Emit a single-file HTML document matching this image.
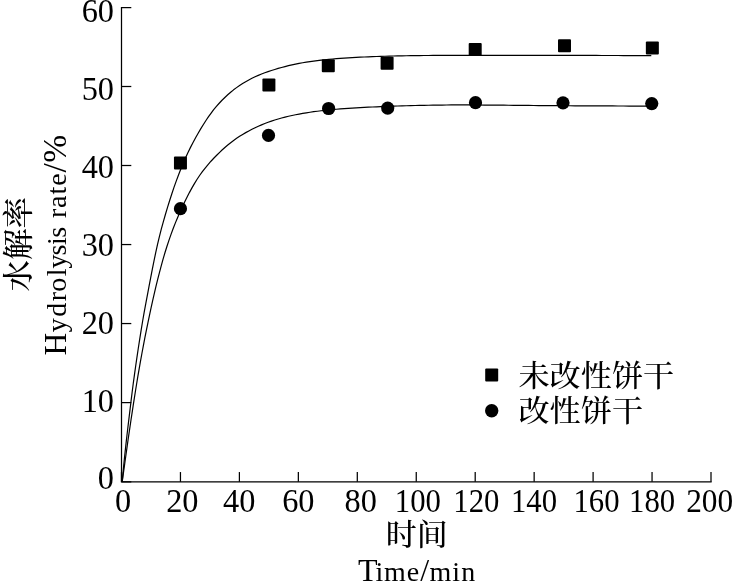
<!DOCTYPE html>
<html lang="zh"><head><meta charset="utf-8"><title>Hydrolysis rate</title>
<style>
html,body{margin:0;padding:0;background:#fff;}
body{width:734px;height:584px;overflow:hidden;}
svg{display:block;}
text{font-family:"Liberation Serif","Noto Serif CJK SC",serif;fill:#000;}
.cn{font-family:"Noto Serif CJK SC","Liberation Serif",serif;font-weight:500;}
.tk{font-size:33.0px;}
</style></head><body>
<svg width="734" height="584" viewBox="0 0 734 584">
<rect width="734" height="584" fill="#fff"/>
<g stroke="#000" stroke-width="1.25" fill="none" stroke-linecap="butt">
<path d="M121.50 6.95 V481.85 H711.65"/>
<path d="M121.50 481.85 h9.8"/>
<path d="M121.50 402.60 h9.8"/>
<path d="M121.50 323.55 h9.8"/>
<path d="M121.50 244.55 h9.8"/>
<path d="M121.50 165.50 h9.8"/>
<path d="M121.50 86.50 h9.8"/>
<path d="M121.50 7.60 h9.8"/>
<path d="M121.50 481.85 v-9.8"/>
<path d="M180.45 481.85 v-9.8"/>
<path d="M239.40 481.85 v-9.8"/>
<path d="M298.35 481.85 v-9.8"/>
<path d="M357.30 481.85 v-9.8"/>
<path d="M416.25 481.85 v-9.8"/>
<path d="M475.20 481.85 v-9.8"/>
<path d="M534.15 481.85 v-9.8"/>
<path d="M593.10 481.85 v-9.8"/>
<path d="M652.05 481.85 v-9.8"/>
<path d="M711.00 481.85 v-9.8"/>
</g>
<g stroke="#000" stroke-width="1.2" fill="none" stroke-linejoin="round">
<path d="M121.90 481.60 L122.22 481.09 L122.41 479.07 L122.68 476.17 L123.03 472.54 L123.44 468.24 L123.92 463.36 L124.48 457.93 L125.10 452.01 L125.79 445.66 L126.55 438.90 L127.38 431.78 L128.25 424.34 L129.18 416.61 L130.15 408.63 L131.14 400.43 L132.16 392.04 L133.25 383.49 L134.44 374.81 L135.68 366.03 L136.97 357.18 L138.30 348.27 L139.68 339.34 L141.11 330.41 L142.57 321.49 L144.11 312.61 L145.73 303.78 L147.38 295.03 L149.02 286.37 L150.65 277.81 L152.29 269.37 L153.95 261.06 L155.66 252.89 L157.42 244.88 L159.27 237.03 L161.22 229.35 L163.30 221.84 L165.40 214.52 L167.52 207.39 L169.67 200.46 L171.85 193.72 L174.06 187.18 L176.31 180.85 L178.60 174.72 L180.92 168.79 L183.28 163.07 L185.68 157.55 L188.12 152.23 L190.63 147.12 L193.17 142.20 L195.73 137.48 L198.29 132.95 L200.84 128.61 L203.40 124.46 L205.96 120.49 L208.54 116.70 L211.14 113.09 L213.67 109.73 L216.42 106.41 L219.20 103.26 L222.01 100.28 L224.86 97.45 L227.74 94.77 L230.65 92.24 L233.59 89.85 L236.57 87.62 L239.58 85.52 L242.62 83.55 L245.69 81.70 L248.80 79.96 L251.93 78.32 L255.10 76.80 L258.30 75.38 L261.53 74.05 L264.79 72.81 L268.08 71.64 L271.41 70.53 L274.76 69.46 L278.15 68.44 L281.56 67.47 L285.01 66.55 L288.48 65.69 L291.99 64.88 L295.53 64.12 L299.09 63.42 L302.69 62.78 L306.31 62.18 L309.97 61.62 L313.66 61.10 L317.37 60.62 L321.11 60.17 L324.89 59.76 L328.69 59.37 L332.52 59.02 L336.38 58.69 L340.27 58.38 L344.19 58.10 L348.13 57.84 L352.11 57.60 L356.11 57.38 L360.14 57.17 L364.20 56.98 L368.29 56.80 L372.41 56.64 L376.55 56.49 L380.73 56.35 L384.93 56.23 L389.15 56.12 L393.41 56.01 L397.69 55.92 L402.01 55.84 L406.35 55.76 L410.71 55.69 L415.11 55.63 L419.53 55.57 L423.97 55.52 L428.45 55.48 L432.95 55.44 L437.48 55.40 L442.04 55.38 L446.62 55.35 L451.23 55.33 L455.87 55.32 L460.53 55.30 L465.22 55.30 L469.94 55.29 L474.68 55.28 L479.45 55.28 L484.25 55.28 L489.07 55.28 L493.92 55.28 L498.80 55.28 L503.70 55.29 L508.62 55.29 L513.58 55.30 L518.56 55.30 L523.56 55.31 L528.59 55.32 L533.65 55.33 L538.73 55.34 L543.84 55.35 L548.97 55.36 L554.13 55.37 L559.31 55.38 L564.52 55.39 L569.76 55.40 L575.02 55.41 L580.31 55.43 L585.62 55.44 L590.95 55.45 L596.31 55.47 L601.70 55.48 L607.11 55.49 L612.55 55.51 L618.01 55.52 L623.50 55.53 L629.01 55.55 L634.54 55.56 L640.10 55.58 L645.69 55.59 L651.30 55.61"/>
<path d="M121.90 481.60 L122.28 481.24 L122.52 479.53 L122.85 477.10 L123.28 474.04 L123.78 470.42 L124.35 466.30 L124.99 461.73 L125.69 456.74 L126.44 451.37 L127.25 445.66 L128.10 439.64 L129.01 433.34 L129.98 426.79 L130.99 420.02 L132.04 413.06 L133.13 405.93 L134.26 398.65 L135.43 391.26 L136.64 383.76 L137.89 376.20 L139.20 368.58 L140.55 360.92 L141.94 353.25 L143.37 345.59 L144.84 337.94 L146.35 330.33 L147.90 322.77 L149.47 315.27 L151.06 307.85 L152.67 300.52 L154.33 293.29 L156.02 286.16 L157.75 279.16 L159.50 272.29 L161.29 265.55 L163.13 258.96 L165.02 252.51 L166.98 246.21 L169.01 240.08 L171.11 234.10 L173.27 228.29 L175.49 222.65 L177.75 217.17 L180.05 211.87 L182.40 206.73 L184.75 201.77 L187.12 196.97 L189.52 192.34 L191.96 187.89 L194.43 183.60 L196.95 179.47 L199.60 175.51 L202.36 171.70 L205.18 168.05 L208.04 164.56 L210.97 161.22 L213.97 158.02 L216.95 154.97 L219.92 152.06 L222.04 150.03 L224.89 147.46 L227.77 145.01 L230.68 142.68 L233.62 140.46 L236.60 138.35 L239.61 136.35 L242.65 134.44 L245.72 132.63 L248.83 130.91 L251.96 129.27 L255.13 127.72 L258.33 126.24 L261.56 124.85 L264.82 123.53 L268.11 122.29 L271.44 121.12 L274.79 120.02 L278.18 118.99 L281.59 118.03 L285.04 117.13 L288.51 116.28 L292.02 115.49 L295.55 114.75 L299.12 114.06 L302.72 113.41 L306.34 112.80 L310.00 112.24 L313.68 111.71 L317.40 111.22 L321.14 110.77 L324.91 110.34 L328.71 109.95 L332.54 109.58 L336.40 109.23 L340.29 108.91 L344.21 108.62 L348.16 108.34 L352.13 108.08 L356.13 107.84 L360.17 107.61 L364.23 107.39 L368.31 107.19 L372.43 106.99 L376.57 106.80 L380.75 106.62 L384.95 106.46 L389.17 106.29 L393.43 106.14 L397.71 106.00 L402.03 105.86 L406.36 105.74 L410.73 105.62 L415.12 105.51 L419.54 105.41 L423.99 105.31 L428.47 105.23 L432.97 105.16 L437.50 105.09 L442.05 105.04 L446.64 105.00 L451.25 104.97 L455.88 104.95 L460.55 104.95 L465.24 104.95 L469.95 104.96 L474.70 104.98 L479.47 105.01 L484.26 105.04 L489.08 105.08 L493.93 105.12 L498.81 105.16 L503.71 105.21 L508.63 105.26 L513.59 105.32 L518.57 105.37 L523.57 105.42 L528.60 105.47 L533.66 105.52 L538.74 105.57 L543.85 105.61 L548.98 105.64 L554.14 105.67 L559.32 105.70 L564.53 105.73 L569.77 105.75 L575.03 105.78 L580.31 105.80 L585.62 105.83 L590.96 105.86 L596.32 105.88 L601.70 105.91 L607.12 105.94 L612.55 105.96 L618.01 105.99 L623.50 106.01 L629.01 106.04 L634.55 106.06 L640.11 106.09 L645.69 106.11 L651.30 106.13"/>
</g>
<rect x="173.95" y="156.60" width="13.0" height="13.0" rx="1"/>
<rect x="262.40" y="78.60" width="13.0" height="13.0" rx="1"/>
<rect x="321.80" y="59.20" width="13.0" height="13.0" rx="1"/>
<rect x="380.60" y="56.85" width="13.0" height="13.0" rx="1"/>
<rect x="468.70" y="43.00" width="13.0" height="13.0" rx="1"/>
<rect x="558.00" y="39.35" width="13.0" height="13.0" rx="1"/>
<rect x="645.85" y="41.50" width="13.0" height="13.0" rx="1"/>
<circle cx="180.45" cy="208.70" r="6.6"/>
<circle cx="268.50" cy="135.40" r="6.6"/>
<circle cx="328.60" cy="108.50" r="6.6"/>
<circle cx="387.70" cy="108.10" r="6.6"/>
<circle cx="475.50" cy="102.70" r="6.6"/>
<circle cx="563.00" cy="102.80" r="6.6"/>
<circle cx="651.75" cy="103.60" r="6.6"/>
<text class="tk" transform="translate(114.00 489.40) scale(0.980 1)" text-anchor="end">0</text>
<text class="tk" transform="translate(114.00 411.70) scale(0.980 1)" text-anchor="end">10</text>
<text class="tk" transform="translate(114.00 333.80) scale(0.980 1)" text-anchor="end">20</text>
<text class="tk" transform="translate(114.00 255.80) scale(0.980 1)" text-anchor="end">30</text>
<text class="tk" transform="translate(114.00 177.70) scale(0.980 1)" text-anchor="end">40</text>
<text class="tk" transform="translate(114.00 99.80) scale(0.980 1)" text-anchor="end">50</text>
<text class="tk" transform="translate(114.00 22.00) scale(0.980 1)" text-anchor="end">60</text>
<text class="tk" transform="translate(123.05 511.90) scale(0.980 1)" text-anchor="middle">0</text>
<text class="tk" transform="translate(182.30 511.90) scale(0.980 1)" text-anchor="middle">20</text>
<text class="tk" transform="translate(239.20 511.90) scale(0.980 1)" text-anchor="middle">40</text>
<text class="tk" transform="translate(298.30 511.90) scale(0.980 1)" text-anchor="middle">60</text>
<text class="tk" transform="translate(360.70 511.90) scale(0.980 1)" text-anchor="middle">80</text>
<text class="tk" transform="translate(417.90 511.90) scale(0.932 1)" text-anchor="middle">100</text>
<text class="tk" transform="translate(476.35 511.90) scale(0.932 1)" text-anchor="middle">120</text>
<text class="tk" transform="translate(534.00 511.90) scale(0.932 1)" text-anchor="middle">140</text>
<text class="tk" transform="translate(596.50 511.90) scale(0.932 1)" text-anchor="middle">160</text>
<text class="tk" transform="translate(652.10 511.90) scale(0.932 1)" text-anchor="middle">180</text>
<text class="tk" transform="translate(709.70 511.90) scale(0.950 1)" text-anchor="middle">200</text>
<text class="cn" transform="translate(416.8 544.7) scale(1 0.95)" font-size="31" text-anchor="middle">时间</text>
<text x="357.9" y="580.5" font-size="28" letter-spacing="0.57"><tspan font-size="32">T</tspan><tspan dx="-2.5 0 0.6">ime</tspan><tspan font-size="32" dx="0.3">/</tspan><tspan dx="0 0.4 0.5">min</tspan></text>
<text class="cn" transform="translate(28.7 244.2) rotate(-90) scale(1 0.965)" font-size="31.5" text-anchor="middle">水解率</text>
<text transform="translate(65.9 355.4) rotate(-90)" font-size="28" letter-spacing="0.59"><tspan font-size="31.5">H</tspan><tspan dx="-0.3 1.1 0.8 -0.3 0.7 -0.5 -1.5 -1.1 -1.2 0 0.8 0 0.5 0.3">ydrolysis rate</tspan><tspan font-size="33.5" dx="0.2 0">/%</tspan></text>
<rect x="485.2" y="368.5" width="13" height="13" rx="1"/>
<circle cx="491.7" cy="410.7" r="6.7"/>
<text class="cn" transform="translate(518.4 386.0) scale(1.006 0.955)" font-size="31">未改性饼干</text>
<text class="cn" transform="translate(518.4 421.1) scale(1.006 0.955)" font-size="31">改性饼干</text>
</svg></body></html>
